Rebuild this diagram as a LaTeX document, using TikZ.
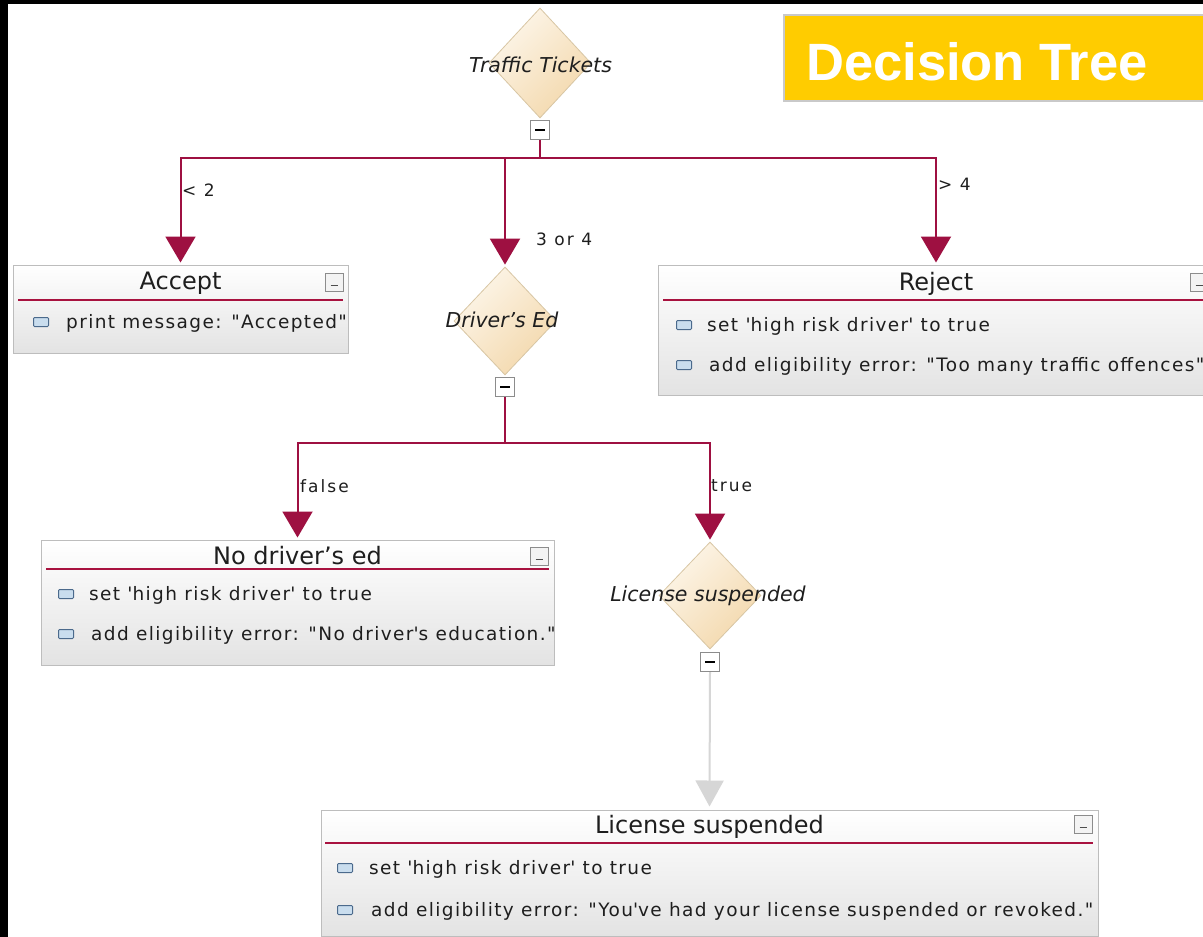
\documentclass[tikz,border=0pt]{standalone}
\usepackage{fontspec}
\setmainfont{DejaVu Sans}
\newfontfamily\bodyfont[LetterSpace=7.5]{DejaVu Sans}
\newfontfamily\edgefont[LetterSpace=12]{DejaVu Sans}
\newfontfamily\bannerfont{Liberation Sans}
\usetikzlibrary{shapes.geometric,arrows.meta}

\definecolor{wire}{HTML}{9E1041}
\definecolor{wiregray}{HTML}{D6D6D6}
\definecolor{banner}{HTML}{FFCC00}
\definecolor{bannerrim}{HTML}{C9C9C9}
\definecolor{boxrim}{HTML}{BDBDBD}
\definecolor{boxtop}{HTML}{FFFFFF}
\definecolor{boxbot}{HTML}{E3E3E3}
\definecolor{dtop}{HTML}{FDF6EA}
\definecolor{dbot}{HTML}{F3D8AC}
\definecolor{drim}{HTML}{D8C6A4}
\definecolor{rulecol}{HTML}{A8123F}
\definecolor{ink}{HTML}{1E1E1E}
\definecolor{chipfill}{HTML}{C9DDEE}
\definecolor{chiprim}{HTML}{4B6A8C}
\definecolor{iconrim}{HTML}{8C8C8C}
\definecolor{iconfill}{HTML}{F3F3F3}

\tikzset{
  wireline/.style={draw=wire, line width=2pt},
  wirearrow/.style={wireline, -{Triangle[width=30pt,length=26pt]}, shorten >=2pt},
  grayarrow/.style={draw=wiregray, line width=2pt, -{Triangle[width=28pt,length=26pt]}, shorten >=3pt},
  decision/.style={diamond, draw=drim, line width=0.8pt, top color=dtop, bottom color=dbot,
    shading angle=45, minimum width=102pt, inner sep=0pt},
  decisionlabel/.style={inner sep=0pt, anchor=base, text=ink, font=\itshape\fontsize{20.5}{20.5}\selectfont},
  toggle/.style={rectangle, draw=iconrim, line width=1pt, fill=white, minimum size=19pt, inner sep=0pt,
    path picture={\draw[black, line width=2pt] ([xshift=-5pt]path picture bounding box.center) -- ++(10pt,0);}},
  card/.style={rectangle, draw=boxrim, line width=1pt, top color=boxtop, bottom color=boxbot, inner sep=0pt},
  cardtitle/.style={inner sep=0pt, anchor=base, text=ink, font=\fontsize{24}{24}\selectfont},
  cardrule/.style={draw=rulecol, line width=1.6pt},
  minicon/.style={rectangle, draw=iconrim, line width=1pt, fill=iconfill, minimum size=18pt, inner sep=0pt,
    path picture={\draw[black!70, line width=1.5pt] ([xshift=-3.5pt,yshift=-3.5pt]path picture bounding box.center) -- ++(7pt,0);}},
  chip/.style={rectangle, rounded corners=1pt, draw=chiprim, line width=1pt, fill=chipfill,
    minimum width=15pt, minimum height=9pt, inner sep=0pt},
  action/.style={inner sep=0pt, anchor=base west, text=ink, font=\bodyfont\fontsize{18.5}{20}\selectfont},
  edgelabel/.style={inner sep=0pt, anchor=base west, text=ink, font=\edgefont\fontsize{17}{17}\selectfont}
}

\begin{document}
\begin{tikzpicture}[x=1pt,y=-1pt]
  \useasboundingbox (0,0) rectangle (1203,937);
  \clip (0,0) rectangle (1203,937);
  % frame
  \fill[black] (0,0) rectangle (1203,937);
  \fill[white] (8,4) rectangle (1203,937);

  % banner
  \node[rectangle, draw=bannerrim, line width=1.5pt, fill=banner, minimum width=431pt, minimum height=86pt, inner sep=0pt]
    (bannerbox) at (999.5,58) {};
  \node[anchor=base west, inner sep=0pt, text=white, font=\bannerfont\bfseries\fontsize{52.5}{52.5}\selectfont]
    (bannertext) at (806,80) {Decision Tree};

  % decisions
  \node[decision, minimum height=110pt] (tt) at (540,63) {};
  \node[decisionlabel] (ttlabel) at (540.5,72) {Traffic Tickets};
  \node[toggle] (ttc) at (540,130) {};

  \node[decision, minimum height=108pt] (de) at (505,321) {};
  \node[decisionlabel] (delabel) at (502,327) {Driver's Ed};
  \node[toggle] (dec) at (505,387) {};

  \node[decision, minimum height=107pt] (ls) at (710,595.5) {};
  \node[decisionlabel] (lslabel) at (708,601) {License suspended};
  \node[toggle] (lsc) at (710,662) {};

  % Accept
  \node[card, minimum width=335pt, minimum height=88pt] (accept) at (180.5,309) {};
  \node[cardtitle] (accepttitle) at (180.5,289) {Accept};
  \draw[cardrule] (18,300) -- (343,300);
  \node[minicon] (accepticon) at (334,282) {};
  \node[chip] (acceptchipa) at (41,322) {};
  \node[action] (accepta) at (66,328) {print message: "Accepted"};

  % Reject
  \node[card, minimum width=556pt, minimum height=130pt] (reject) at (936,330) {};
  \node[cardtitle] (rejecttitle) at (936,290) {Reject};
  \draw[cardrule] (663,300) -- (1209,300);
  \node[minicon] (rejecticon) at (1199,282) {};
  \node[chip] (rejectchipa) at (684,325) {};
  \node[action] (rejecta) at (707,331) {set \textquotesingle high risk driver\textquotesingle{} to true};
  \node[chip] (rejectchipb) at (684,365) {};
  \node[action] (rejectb) at (709,371) {add eligibility error: "Too many traffic offences"};

  % No driver's ed
  \node[card, minimum width=513pt, minimum height=125pt] (nde) at (297.5,602.5) {};
  \node[cardtitle] (ndetitle) at (297.5,564) {No driver's ed};
  \draw[cardrule] (46,569) -- (549,569);
  \node[minicon] (ndeicon) at (539,556) {};
  \node[chip] (ndechipa) at (66,594) {};
  \node[action] (ndea) at (89,600) {set \textquotesingle high risk driver\textquotesingle{} to true};
  \node[chip] (ndechipb) at (66,634) {};
  \node[action] (ndeb) at (91,640) {add eligibility error: "No driver\textquotesingle s education."};

  % License suspended
  \node[card, minimum width=777pt, minimum height=126pt] (lsbox) at (709.5,873) {};
  \node[cardtitle] (lsboxtitle) at (709.5,833) {License suspended};
  \draw[cardrule] (325,843) -- (1093,843);
  \node[minicon] (lsboxicon) at (1083,824) {};
  \node[chip] (lsboxchipa) at (345,868) {};
  \node[action] (lsboxa) at (369,874) {set \textquotesingle high risk driver\textquotesingle{} to true};
  \node[chip] (lsboxchipb) at (345,910) {};
  \node[action] (lsboxb) at (371,916) {add eligibility error: "You\textquotesingle ve had your license suspended or revoked."};

  % connectors
  \coordinate (j1) at (540,158);
  \draw[wireline] (ttc.south) -- (j1);
  \draw[wirearrow] (j1) -| (accept.north);
  \draw[wirearrow] (j1) -| (de.north);
  \draw[wirearrow] (j1) -| (reject.north);

  \coordinate (j2) at (505,443);
  \draw[wireline] (dec.south) -- (j2);
  \draw[wirearrow] (j2) -| (nde.north);
  \draw[wirearrow] (j2) -| (ls.north);

  \draw[grayarrow] (lsc.south) -- (lsbox.north);

  % branch labels
  \node[edgelabel] (lless) at (182,196) {< 2};
  \node[edgelabel] (lmid) at (536,245) {3 or 4};
  \node[edgelabel] (lmore) at (938,190) {> 4};
  \node[edgelabel] (lfalse) at (300,492) {false};
  \node[edgelabel] (ltrue) at (711,491) {true};
\end{tikzpicture}
\end{document}
